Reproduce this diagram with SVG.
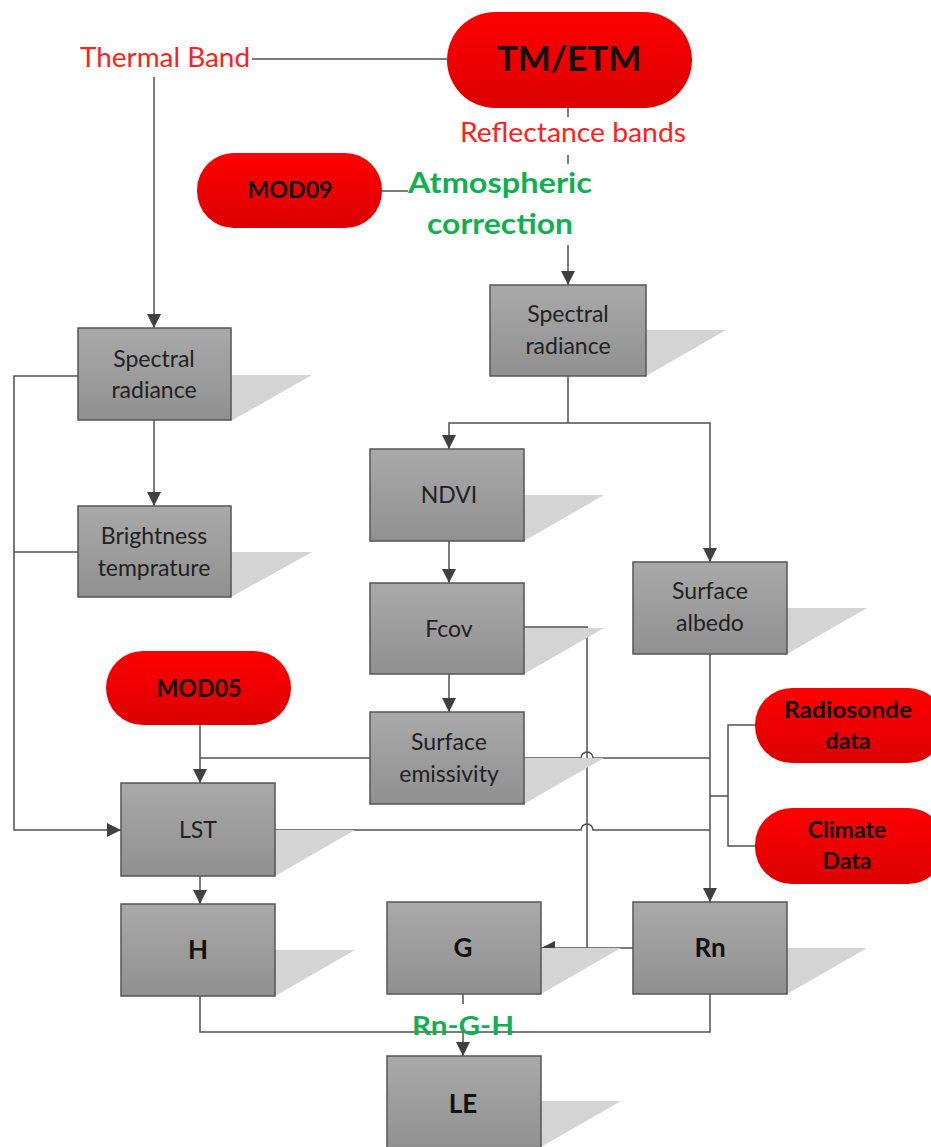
<svg xmlns="http://www.w3.org/2000/svg" width="931" height="1147" viewBox="0 0 931 1147">
<defs>
<linearGradient id="gbox" x1="0" y1="0" x2="0" y2="1"><stop offset="0" stop-color="#a9a9a9"/><stop offset="1" stop-color="#909090"/></linearGradient>
<linearGradient id="gred" x1="0" y1="0" x2="0" y2="1"><stop offset="0" stop-color="#ff0000"/><stop offset="1" stop-color="#dc0000"/></linearGradient>
<marker id="ah" viewBox="0 0 12 14" refX="14" refY="7" markerWidth="14" markerHeight="14" markerUnits="userSpaceOnUse" orient="auto"><path d="M0,0 L14,7 L0,14 Z" fill="#404040"/></marker>
<style>
.box{fill:url(#gbox);stroke:#555;stroke-width:1.5}
.sh{fill:#d4d4d4}
.pill{fill:url(#gred)}
.t{font-family:Lato,"Liberation Sans",sans-serif;font-size:23px;fill:#222;text-anchor:middle}
.tb{font-family:Lato,"Liberation Sans",sans-serif;font-weight:bold;fill:#111;text-anchor:middle}
.red{font-family:Lato,"Liberation Sans",sans-serif;font-size:26px;fill:#ff2020}
.grn{font-family:Lato,"Liberation Sans",sans-serif;font-weight:bold;fill:#10b050;text-anchor:middle}
.c{fill:none;stroke:#505050;stroke-width:1.5}
.ca{fill:none;stroke:#505050;stroke-width:1.5;marker-end:url(#ah)}
</style>
</defs>

<g id="connectors">
<path class="c" d="M252,59 H447"/>
<path class="ca" d="M154,77 V328"/>
<path class="c" d="M568,108 V117"/>
<path class="c" d="M568,155 V164"/>
<path class="c" d="M382,191 H408"/>
<path class="ca" d="M568,245 V285"/>
<path class="ca" d="M154,420 V506"/>
<path class="ca" d="M78,376 H14 V830 H121"/>
<path class="c" d="M78,552 H14"/>
<path class="c" d="M568,376 V423"/>
<path class="ca" d="M568,423 H449 V449"/>
<path class="ca" d="M568,423 H710 V562"/>
<path class="ca" d="M449,541 V583"/>
<path class="ca" d="M449,674 V712"/>
<path class="ca" d="M524,627 H587 V948 H541"/>
<path class="c" d="M633,948 H587"/>
<path class="ca" d="M710,654 V902"/>
<path class="ca" d="M370,758 H200 V783"/>
<path class="c" d="M200,725 V758"/>
<path class="c" d="M524,758 H581 A6,6 0 0 1 593,758 H710"/>
<path class="c" d="M275,830 H581 A6,6 0 0 1 593,830 H710"/>
<path class="c" d="M755,725 H728 V846 H755"/>
<path class="c" d="M728,796 H710"/>
<path class="ca" d="M200,876 V904"/>
<path class="c" d="M200,996 V1032 H710 V994"/>
<path class="ca" d="M463,1032 V1056"/>
<path class="c" d="M463,994 V1004"/>
</g>

<g id="thermal-band"><text class="red" x="80" y="67" textLength="170" lengthAdjust="spacingAndGlyphs">Thermal Band</text></g>
<g id="tm-etm"><rect class="pill" x="447" y="12" width="245" height="96" rx="48"/><text class="tb" x="569" y="71" font-size="35">TM/ETM</text></g>
<g id="reflectance-bands"><text class="red" x="460" y="142" textLength="226" lengthAdjust="spacingAndGlyphs">Reflectance bands</text></g>
<g id="mod09"><rect class="pill" x="197" y="153" width="185" height="75" rx="37"/><text class="tb" x="290" y="198" font-size="22" textLength="85" lengthAdjust="spacingAndGlyphs">MOD09</text></g>
<g id="atmospheric-correction"><text class="grn" font-size="29" x="500" y="193" textLength="184" lengthAdjust="spacingAndGlyphs">Atmospheric</text><text class="grn" font-size="29" x="500" y="234" textLength="146" lengthAdjust="spacingAndGlyphs">correction</text></g>

<g id="spectral-radiance-r"><polygon class="sh" points="646,330 726,330 646,376"/><rect class="box" x="490" y="285" width="156" height="91"/><text class="t" x="568" y="322">Spectral</text><text class="t" x="568" y="354">radiance</text></g>
<g id="spectral-radiance-l"><polygon class="sh" points="231,375 312,375 231,421"/><rect class="box" x="78" y="328" width="153" height="92"/><text class="t" x="154" y="367">Spectral</text><text class="t" x="154" y="398">radiance</text></g>
<g id="brightness"><polygon class="sh" points="231,552 312,552 231,597"/><rect class="box" x="78" y="506" width="153" height="91"/><text class="t" x="154" y="544">Brightness</text><text class="t" x="154" y="576">temprature</text></g>
<g id="ndvi"><polygon class="sh" points="524,495 604,495 524,541"/><rect class="box" x="370" y="449" width="154" height="92"/><text class="t" x="449" y="503">NDVI</text></g>
<g id="fcov"><polygon class="sh" points="524,628 604,628 524,674"/><rect class="box" x="370" y="583" width="154" height="91"/><text class="t" x="449" y="637">Fcov</text></g>
<g id="surface-emissivity"><polygon class="sh" points="524,758 604,758 524,804"/><rect class="box" x="370" y="712" width="154" height="92"/><text class="t" x="449" y="750">Surface</text><text class="t" x="449" y="782">emissivity</text></g>
<g id="surface-albedo"><polygon class="sh" points="787,608 867,608 787,654"/><rect class="box" x="633" y="562" width="154" height="92"/><text class="t" x="710" y="599">Surface</text><text class="t" x="710" y="631">albedo</text></g>
<g id="mod05"><rect class="pill" x="106" y="651" width="185" height="74" rx="37"/><text class="tb" x="199" y="697" font-size="24" textLength="85" lengthAdjust="spacingAndGlyphs">MOD05</text></g>
<g id="radiosonde"><rect class="pill" x="755" y="688" width="190" height="75" rx="37"/><text class="tb" x="848" y="718" font-size="23" textLength="128" lengthAdjust="spacingAndGlyphs">Radiosonde</text><text class="tb" x="848" y="749" font-size="23">data</text></g>
<g id="climate"><rect class="pill" x="755" y="808" width="190" height="76" rx="37"/><text class="tb" x="847" y="838" font-size="23">Climate</text><text class="tb" x="847" y="869" font-size="23">Data</text></g>
<g id="lst"><polygon class="sh" points="275,830 355,830 275,876"/><rect class="box" x="121" y="783" width="154" height="93"/><text class="t" x="198" y="838">LST</text></g>
<g id="h"><polygon class="sh" points="275,950 355,950 275,996"/><rect class="box" x="121" y="904" width="154" height="92"/><text class="tb" x="198" y="959" font-size="26">H</text></g>
<g id="g"><polygon class="sh" points="541,948 621,948 541,994"/><rect class="box" x="387" y="902" width="154" height="92"/><text class="tb" x="463" y="957" font-size="26">G</text></g>
<g id="rn"><polygon class="sh" points="787,948 867,948 787,994"/><rect class="box" x="633" y="902" width="154" height="92"/><text class="tb" x="710" y="957" font-size="26">Rn</text></g>
<g id="rn-g-h"><text class="grn" font-size="27" x="463" y="1035" textLength="102" lengthAdjust="spacingAndGlyphs">Rn-G-H</text></g>
<g id="le"><polygon class="sh" points="541,1101 621,1101 541,1147"/><rect class="box" x="387" y="1056" width="154" height="95"/><text class="tb" x="463" y="1113" font-size="26">LE</text></g>
</svg>
